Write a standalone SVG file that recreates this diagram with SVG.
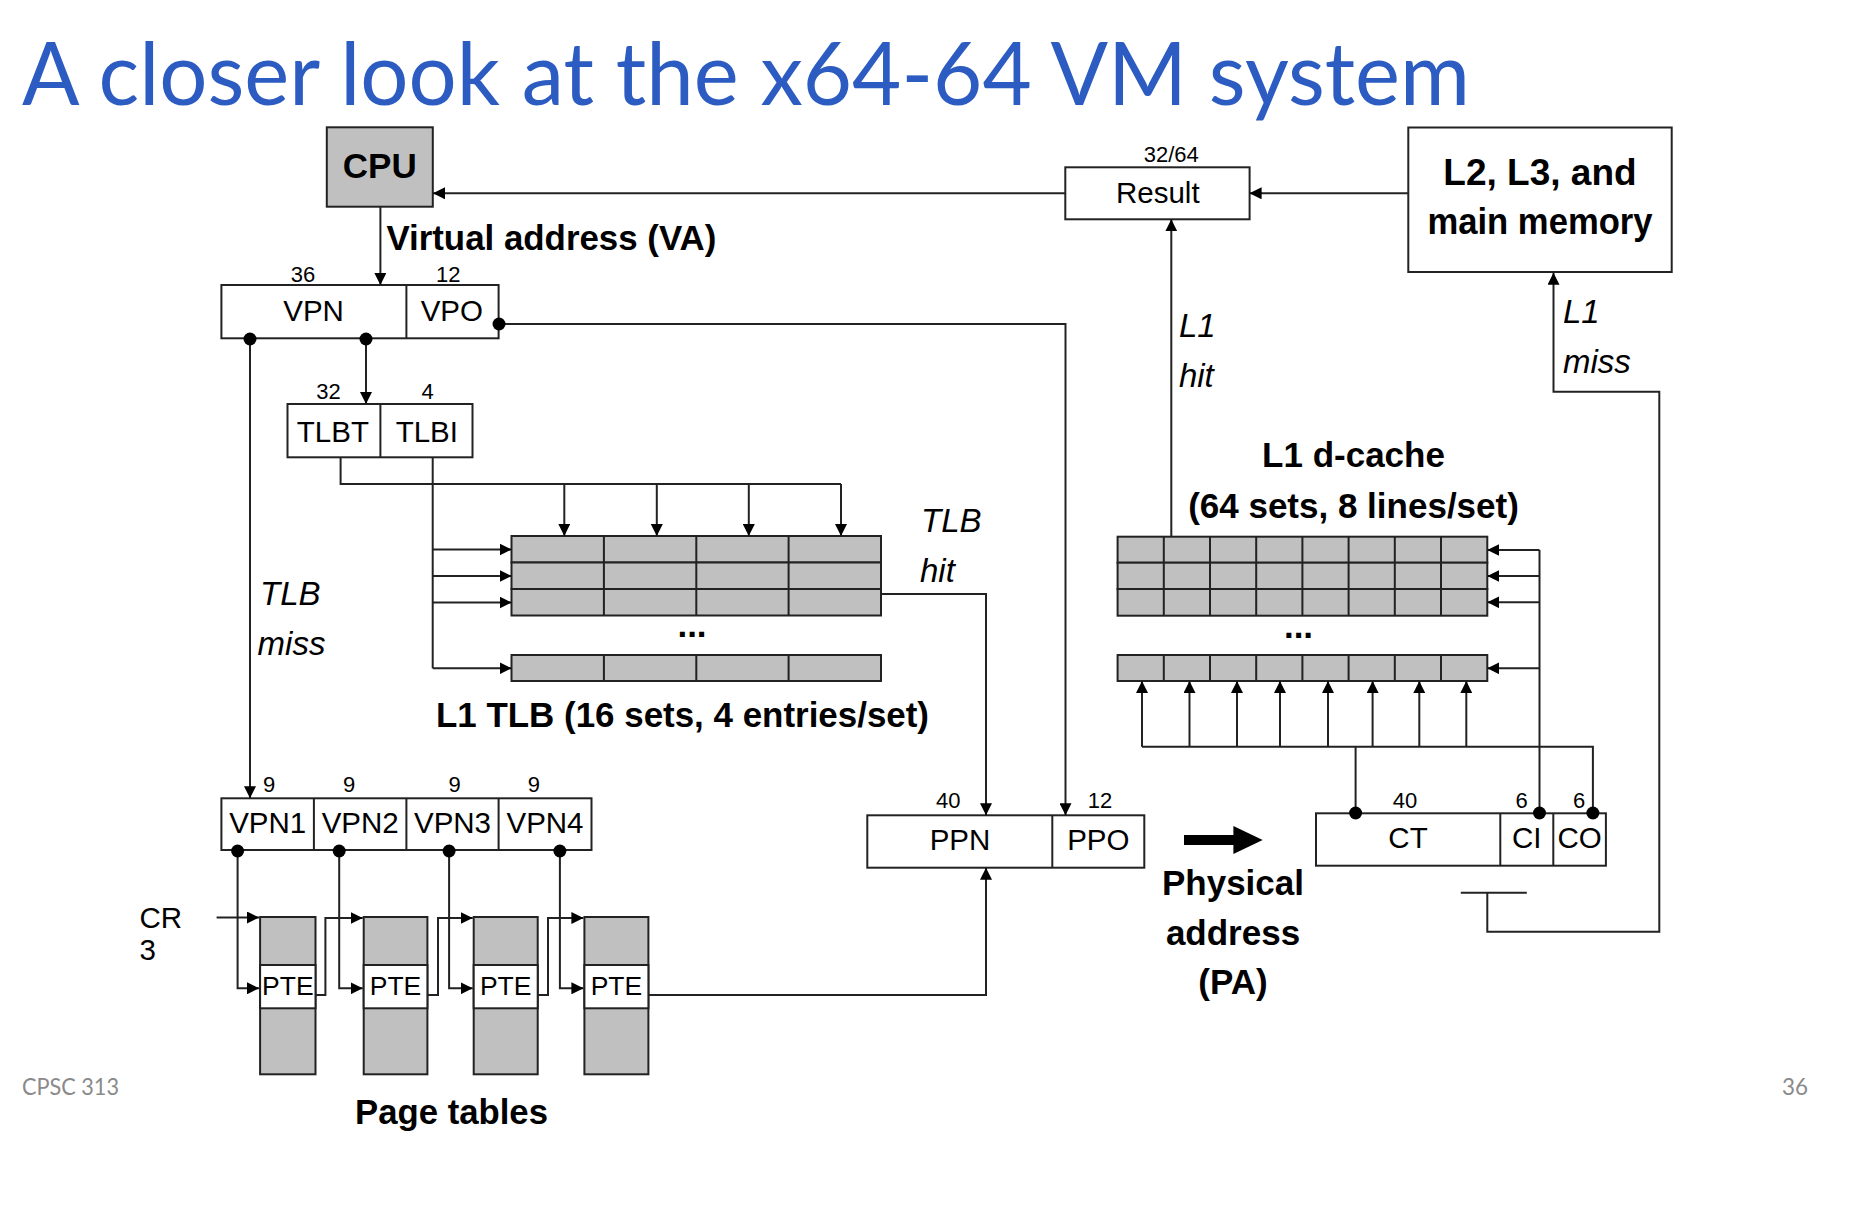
<svg xmlns="http://www.w3.org/2000/svg" width="1852" height="1206" viewBox="0 0 1852 1206">
  <style>
    .box { fill: #fff; stroke: #222; stroke-width: 2; }
    .gray { fill: #c0c0c0; stroke: #222; stroke-width: 2; }
    .wire { fill: none; stroke: #222; stroke-width: 2; }
    .arr { marker-end: url(#ah); }
    .dot { fill: #000; }
    text { font-family: "Liberation Sans", Arimo, Arial, Helvetica, sans-serif; fill: #000; }
    .lbl { font-size: 29.5px; text-anchor: middle; }
    .pte { font-size: 26.5px; text-anchor: middle; }
    .num { font-size: 22px; text-anchor: middle; }
    .bold { font-size: 35px; font-weight: bold; }
    .mid { text-anchor: middle; }
    .ital { font-size: 33px; font-style: italic; }
    .title { font-family: Lato, "Open Sans", sans-serif; font-size: 87px; fill: #2C5CC1; }
    .foot { font-family: Lato, "Open Sans", sans-serif; font-size: 23px; fill: #8a8a8a; }
  </style>
  <defs>
    <marker id="ah" viewBox="0 0 12 12" refX="12" refY="6" markerWidth="12" markerHeight="12" markerUnits="userSpaceOnUse" orient="auto">
      <path d="M0,0 L12,6 L0,12 z" fill="#000"/>
    </marker>
  </defs>

  <rect x="0" y="0" width="1852" height="1206" fill="#fff"/>

  <!-- slide title and footer -->
  <text class="title" x="22" y="105" textLength="1448" lengthAdjust="spacingAndGlyphs">A closer look at the x64-64 VM system</text>
  <text class="foot" x="22" y="1095" textLength="97" lengthAdjust="spacingAndGlyphs">CPSC 313</text>
  <text class="foot" x="1782" y="1095" textLength="26" lengthAdjust="spacingAndGlyphs">36</text>

  <!-- CPU -->
  <g id="cpu">
    <rect class="gray" x="326.8" y="127.3" width="106" height="79.4"/>
    <text class="bold mid" x="379.8" y="178.3">CPU</text>
  </g>
  <text class="bold" x="386.4" y="250" textLength="330" lengthAdjust="spacingAndGlyphs">Virtual address (VA)</text>

  <!-- virtual address fields -->
  <g id="va">
    <rect class="box" x="221.4" y="285" width="277.2" height="53.3"/>
    <path class="wire" d="M406.4,285 V338.3"/>
    <text class="num" x="302.9" y="281.7">36</text>
    <text class="num" x="448.2" y="281.7">12</text>
    <text class="lbl" x="313.6" y="320.7">VPN</text>
    <text class="lbl" x="451.8" y="320.7">VPO</text>
  </g>

  <!-- TLB tag / index -->
  <g id="tlb-index">
    <rect class="box" x="287.5" y="404" width="185" height="53.3"/>
    <path class="wire" d="M380.4,404 V457.3"/>
    <text class="num" x="328.6" y="399">32</text>
    <text class="num" x="427.5" y="399">4</text>
    <text class="lbl" x="332.9" y="441.7">TLBT</text>
    <text class="lbl" x="426.8" y="441.7">TLBI</text>
  </g>

  <!-- L1 TLB array -->
  <g id="l1-tlb">
    <rect class="gray" x="511.5" y="536" width="369.5" height="26.5"/>
    <rect class="gray" x="511.5" y="562.5" width="369.5" height="26.5"/>
    <rect class="gray" x="511.5" y="589" width="369.5" height="26.5"/>
    <rect class="gray" x="511.5" y="655" width="369.5" height="26"/>
    <path class="wire" d="M603.9,536 V615.5 M696.3,536 V615.5 M788.6,536 V615.5 M603.9,655 V681 M696.3,655 V681 M788.6,655 V681"/>
    <text class="bold mid" x="692" y="637">...</text>
    <text class="bold" x="436" y="727" textLength="493" lengthAdjust="spacingAndGlyphs">L1 TLB (16 sets, 4 entries/set)</text>
  </g>
  <text class="ital" x="260" y="605">TLB</text>
  <text class="ital" x="257.6" y="655">miss</text>
  <text class="ital" x="921" y="532">TLB</text>
  <text class="ital" x="920" y="582">hit</text>

  <!-- VPN levels -->
  <g id="vpn-levels">
    <rect class="box" x="221.4" y="798.3" width="370.1" height="51.7"/>
    <path class="wire" d="M313.9,798.3 V850 M406.4,798.3 V850 M498.6,798.3 V850"/>
    <text class="num" x="269.2" y="791.7">9</text>
    <text class="num" x="349.1" y="791.7">9</text>
    <text class="num" x="454.7" y="791.7">9</text>
    <text class="num" x="533.8" y="791.7">9</text>
    <text class="lbl" x="267.7" y="832.7">VPN1</text>
    <text class="lbl" x="360.2" y="832.7">VPN2</text>
    <text class="lbl" x="452.5" y="832.7">VPN3</text>
    <text class="lbl" x="545" y="832.7">VPN4</text>
  </g>

  <text class="lbl" x="139.5" y="928.3" style="text-anchor:start">CR</text>
  <text class="lbl" x="139.5" y="960" style="text-anchor:start">3</text>

  <!-- page tables -->
  <g id="pt1">
    <rect class="gray" x="260.1" y="917" width="55.4" height="157.3"/>
    <rect class="box" x="260.1" y="965" width="55.4" height="43.3"/>
    <text class="pte" x="287.8" y="995">PTE</text>
  </g>
  <g id="pt2">
    <rect class="gray" x="363.7" y="917" width="63.7" height="157.3"/>
    <rect class="box" x="363.7" y="965" width="63.7" height="43.3"/>
    <text class="pte" x="395.5" y="995">PTE</text>
  </g>
  <g id="pt3">
    <rect class="gray" x="473.7" y="917" width="64" height="157.3"/>
    <rect class="box" x="473.7" y="965" width="64" height="43.3"/>
    <text class="pte" x="505.7" y="995">PTE</text>
  </g>
  <g id="pt4">
    <rect class="gray" x="584.4" y="917" width="64" height="157.3"/>
    <rect class="box" x="584.4" y="965" width="64" height="43.3"/>
    <text class="pte" x="616.4" y="995">PTE</text>
  </g>
  <text class="bold" x="355" y="1124" textLength="193" lengthAdjust="spacingAndGlyphs">Page tables</text>

  <!-- physical address -->
  <g id="pa">
    <rect class="box" x="867.3" y="815.3" width="277" height="52.4"/>
    <path class="wire" d="M1052.3,815.3 V867.7"/>
    <text class="num" x="948.3" y="807.7">40</text>
    <text class="num" x="1100" y="807.7">12</text>
    <text class="lbl" x="960" y="850">PPN</text>
    <text class="lbl" x="1098.3" y="850">PPO</text>
  </g>

  <!-- the same address, split for the cache -->
  <g id="pa-arrow">
    <path d="M1184,835 H1233.4 V826 L1262.7,840 L1233.4,854 V845 H1184 z" fill="#000"/>
    <text class="bold mid" x="1233" y="895">Physical</text>
    <text class="bold mid" x="1233" y="945">address</text>
    <text class="bold mid" x="1233" y="994">(PA)</text>
  </g>

  <g id="pa-cache">
    <rect class="box" x="1316" y="813.3" width="289.9" height="52.4"/>
    <path class="wire" d="M1500.3,813.3 V865.7 M1553.3,813.3 V865.7"/>
    <text class="num" x="1405" y="808.3">40</text>
    <text class="num" x="1521.7" y="808.3">6</text>
    <text class="num" x="1579" y="808.3">6</text>
    <text class="lbl" x="1408" y="848.3">CT</text>
    <text class="lbl" x="1526.8" y="848.3">CI</text>
    <text class="lbl" x="1579.6" y="848.3">CO</text>
  </g>

  <!-- L1 d-cache -->
  <g id="l1-dcache">
    <rect class="gray" x="1117.6" y="536.7" width="369.7" height="26"/>
    <rect class="gray" x="1117.6" y="562.7" width="369.7" height="26.3"/>
    <rect class="gray" x="1117.6" y="589" width="369.7" height="26.7"/>
    <rect class="gray" x="1117.6" y="655" width="369.7" height="26"/>
    <path class="wire" d="M1163.8,536.7 V615.7 M1210,536.7 V615.7 M1256.2,536.7 V615.7 M1302.4,536.7 V615.7 M1348.6,536.7 V615.7 M1394.8,536.7 V615.7 M1441,536.7 V615.7"/>
    <path class="wire" d="M1163.8,655 V681 M1210,655 V681 M1256.2,655 V681 M1302.4,655 V681 M1348.6,655 V681 M1394.8,655 V681 M1441,655 V681"/>
    <text class="bold mid" x="1298.5" y="638">...</text>
    <text class="bold mid" x="1353.5" y="467">L1 d-cache</text>
    <text class="bold mid" x="1353.5" y="518">(64 sets, 8 lines/set)</text>
  </g>
  <text class="ital" x="1178.9" y="336.7">L1</text>
  <text class="ital" x="1178.9" y="386.7">hit</text>
  <text class="ital" x="1563" y="323.3">L1</text>
  <text class="ital" x="1563" y="373.3">miss</text>

  <!-- result register -->
  <g id="result">
    <rect class="box" x="1065.3" y="167.3" width="184.3" height="52"/>
    <text class="num" x="1171.3" y="161.7">32/64</text>
    <text class="lbl" x="1157.8" y="202.7">Result</text>
  </g>

  <!-- lower memory hierarchy -->
  <g id="memory">
    <rect class="box" x="1408.3" y="127.5" width="263.4" height="144.5"/>
    <text class="bold mid" x="1540" y="185" style="font-size:37px">L2, L3, and</text>
    <text class="bold mid" x="1540" y="234" style="font-size:36px" textLength="225" lengthAdjust="spacingAndGlyphs">main memory</text>
  </g>

  <!-- connectors, drawn over the boxes so junction dots sit on top -->
  <g id="connectors">
    <!-- CPU to virtual address -->
    <path class="wire arr" d="M380.4,206.7 V285"/>
    <!-- result back to CPU -->
    <path class="wire arr" d="M1065.3,193.3 H433"/>
    <!-- memory to result -->
    <path class="wire arr" d="M1408.3,193.3 H1249.6"/>
    <!-- VPN to TLBT/TLBI -->
    <path class="wire arr" d="M366,339 V404"/>
    <!-- TLB miss -->
    <path class="wire arr" d="M250,339 V798.3"/>
    <!-- VPO to PPO -->
    <path class="wire arr" d="M499,324 H1065.5 V815.3"/>
    <!-- TLBT tag comparisons -->
    <path class="wire" d="M340.6,457.3 V484 H841"/>
    <path class="wire arr" d="M564.3,484 V536"/>
    <path class="wire arr" d="M656.8,484 V536"/>
    <path class="wire arr" d="M748.8,484 V536"/>
    <path class="wire arr" d="M841,484 V536"/>
    <!-- TLBI set select -->
    <path class="wire" d="M432.7,457.3 V668.3"/>
    <path class="wire arr" d="M432.7,549.5 H511.5"/>
    <path class="wire arr" d="M432.7,576 H511.5"/>
    <path class="wire arr" d="M432.7,602.5 H511.5"/>
    <path class="wire arr" d="M432.7,668.3 H511.5"/>
    <!-- TLB hit to PPN -->
    <path class="wire arr" d="M881,594 H986 V815.3"/>
    <!-- page walk result to PPN -->
    <path class="wire arr" d="M648.4,995 H986 V867.7"/>
    <!-- CR3 -->
    <path class="wire arr" d="M216.6,917.5 H259"/>
    <!-- VPN1..4 indexes into page tables -->
    <path class="wire arr" d="M237.6,851 V988.3 H259"/>
    <path class="wire arr" d="M339.2,851 V988.3 H362.7"/>
    <path class="wire arr" d="M449.1,851 V988.3 H472.7"/>
    <path class="wire arr" d="M559.9,851 V988.3 H583.4"/>
    <!-- PTE to next-level table base -->
    <path class="wire arr" d="M315.5,995 H325.4 V918 H362.7"/>
    <path class="wire arr" d="M427.4,995 H438 V918 H472.7"/>
    <path class="wire arr" d="M537.7,995 H548 V918 H583.4"/>
    <!-- L1 hit to result -->
    <path class="wire arr" d="M1171.3,536.7 V219.3"/>
    <!-- CI set select -->
    <path class="wire" d="M1539.5,813 V550"/>
    <path class="wire arr" d="M1539.5,550 H1487.3"/>
    <path class="wire arr" d="M1539.5,576 H1487.3"/>
    <path class="wire arr" d="M1539.5,602.3 H1487.3"/>
    <path class="wire arr" d="M1539.5,668.3 H1487.3"/>
    <!-- CT tag / CO offset bus -->
    <path class="wire" d="M1355.6,813 V746.7"/>
    <path class="wire" d="M1142,746.7 H1592.9 V813"/>
    <path class="wire arr" d="M1142,746.7 V681"/>
    <path class="wire arr" d="M1189.5,746.7 V681"/>
    <path class="wire arr" d="M1237,746.7 V681"/>
    <path class="wire arr" d="M1280,746.7 V681"/>
    <path class="wire arr" d="M1328,746.7 V681"/>
    <path class="wire arr" d="M1372.6,746.7 V681"/>
    <path class="wire arr" d="M1419.3,746.7 V681"/>
    <path class="wire arr" d="M1466.3,746.7 V681"/>
    <!-- L1 miss path -->
    <path class="wire" d="M1460.8,892.7 H1526.8"/>
    <path class="wire arr" d="M1487.3,892.7 V931.7 H1659.3 V391.7 H1553.5 V272.7"/>
    <!-- junction dots -->
    <circle class="dot" cx="250" cy="339" r="6.5"/>
    <circle class="dot" cx="366" cy="339" r="6.5"/>
    <circle class="dot" cx="499" cy="324" r="6.5"/>
    <circle class="dot" cx="237.6" cy="851" r="6.5"/>
    <circle class="dot" cx="339.2" cy="851" r="6.5"/>
    <circle class="dot" cx="449.1" cy="851" r="6.5"/>
    <circle class="dot" cx="559.9" cy="851" r="6.5"/>
    <circle class="dot" cx="1355.6" cy="813" r="6.5"/>
    <circle class="dot" cx="1539.5" cy="813" r="6.5"/>
    <circle class="dot" cx="1592.9" cy="813" r="6.5"/>
  </g>
</svg>
